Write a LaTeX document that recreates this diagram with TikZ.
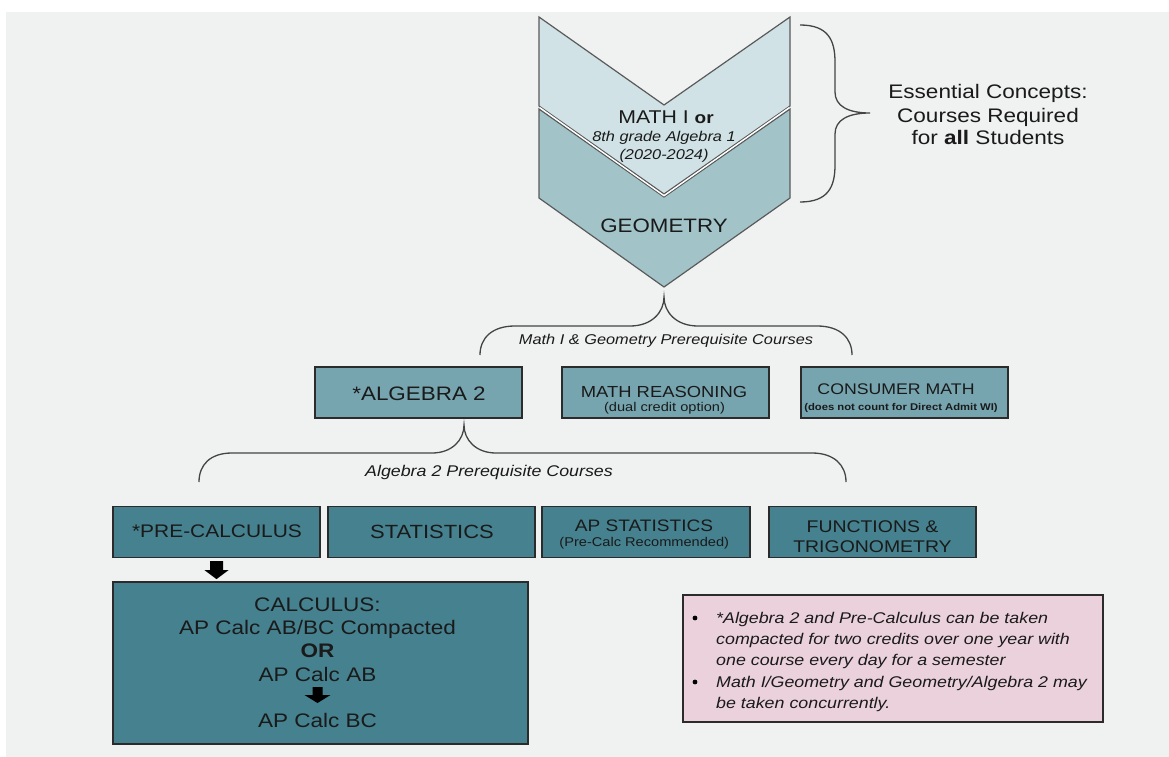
\documentclass[tikz,border=0pt]{standalone}
\usepackage{fontspec}
\setmainfont{Liberation Sans}[FakeStretch=1.15]
\definecolor{bg}{HTML}{F0F1F1}
\definecolor{chevA}{HTML}{D0E2E5}
\definecolor{chevB}{HTML}{A2C4C9}
\definecolor{rowA}{HTML}{76A5AF}
\definecolor{rowB}{HTML}{45818E}
\definecolor{note}{HTML}{EAD1DC}
\definecolor{bordc}{HTML}{2B2B2B}
\definecolor{chevline}{HTML}{5A5A5A}
\definecolor{bracec}{HTML}{444444}
\definecolor{txt}{HTML}{1A1A1A}
\newcommand\fsz[1]{\fontsize{#1pt}{#1pt}\selectfont}
\begin{document}
\begin{tikzpicture}[x=1pt,y=-1pt,
  box/.style={draw=bordc, line width=1.3pt, inner sep=0pt, minimum width=207pt, minimum height=51pt},
  lbl/.style={anchor=base, inner sep=0pt, text=txt},
  chev/.style={draw=chevline, line width=1.2pt, line join=miter},
  bracel/.style={draw=bracec, line width=1.3pt},
  blockarr/.style={fill=black}]
\useasboundingbox (0,0) rectangle (1169,757);
\fill[white] (0,0) rectangle (1169,757);
\fill[bg] (6,12) rectangle (1169,757);

% chevrons
\filldraw[chev, fill=chevB] (539,109) -- (664,197) -- (790,109) -- (790,198) -- (664,287) -- (539,198) -- cycle;
\filldraw[chev, fill=chevA] (539,17) -- (664,105) -- (790,17) -- (790,106) -- (664,194) -- (539,106) -- cycle;
\fill[white] (540,107) -- (664,195) -- (789,107) -- (789,108.5) -- (664,196.5) -- (540,108.5) -- cycle;
\coordinate (chevtip) at (664,287);

\node[lbl, font=\fsz{18.5}] (m1) at (666,123.6) {MATH I \textbf{\fsz{16.5}or}};
\node[lbl, font=\fsz{14.2}\itshape] (m2) at (664,142) {8th grade Algebra 1};
\node[lbl, font=\fsz{14.2}\itshape] (m3) at (664,159) {(2020-2024)};
\node[lbl, font=\fsz{19.4}] (geo) at (664,232) {GEOMETRY};

% right brace
\draw[bracel] (800,25) .. controls (828,25) and (835,40) .. (835,62) -- (835,92)
  .. controls (835,106) and (848,113) .. (870,113)
  .. controls (848,113) and (835,120) .. (835,134) -- (835,165)
  .. controls (835,187) and (828,202) .. (800,202);
\node[lbl, font=\fsz{19.6}] (e1) at (988,99) {Essential Concepts:};
\node[lbl, font=\fsz{19.6}] (e2) at (988,122) {Courses Required};
\node[lbl, font=\fsz{19.6}] (e3) at (988,144) {for \textbf{all} Students};

% brace under geometry
\draw[bracel] (480,355) .. controls (480,338) and (492,326) .. (515,326) -- (630,326)
  .. controls (652,326) and (664,312) .. (664,297)
  .. controls (664,312) and (676,326) .. (698,326) -- (817,326)
  .. controls (840,326) and (852,338) .. (852,355);
\node[lbl, font=\fsz{14.2}\itshape] (p1) at (666,344) {Math I \& Geometry Prerequisite Courses};

% row 1
\node[box, fill=rowA] (alg) at (418.5,392.5) {};
\node[box, fill=rowA] (mr) at (665.5,392.5) {};
\node[box, fill=rowA] (cm) at (904.5,392.5) {};
\node[lbl, font=\fsz{19.5}] (algt) at (419,400) {*ALGEBRA 2};
\node[lbl, font=\fsz{16}] (mrt) at (664,397) {MATH REASONING};
\node[lbl, font=\fsz{12.7}] (mrs) at (664.5,411) {(dual credit option)};
\node[lbl, font=\fsz{15.4}] (cmt) at (896,394.3) {CONSUMER MATH};
\node[lbl, font=\fsz{9.8}\bfseries] (cms) at (901,410) {(does not count for Direct Admit WI)};

% brace under algebra 2
\draw[bracel] (199,482) .. controls (199,465) and (210,453) .. (232,453) -- (432,453)
  .. controls (452,453) and (464,440) .. (464,425)
  .. controls (464,440) and (476,453) .. (496,453) -- (812,453)
  .. controls (834,453) and (846,465) .. (846,482);
\node[lbl, font=\fsz{15.5}\itshape] (p2) at (489,476) {Algebra 2 Prerequisite Courses};

% row 2
\node[box, fill=rowB] (pc) at (216.5,532) {};
\node[box, fill=rowB] (st) at (431.5,532) {};
\node[box, fill=rowB, minimum width=208pt] (aps) at (646,532) {};
\node[box, fill=rowB] (ft) at (872.5,532) {};
\node[lbl, font=\fsz{18.2}] (pct) at (217,537) {*PRE-CALCULUS};
\node[lbl, font=\fsz{19.1}] (stt) at (432,538) {STATISTICS};
\node[lbl, font=\fsz{16.6}] (apst) at (644,531) {AP STATISTICS};
\node[lbl, font=\fsz{12.7}] (apss) at (644.3,546) {(Pre-Calc Recommended)};
\node[lbl, font=\fsz{16.9}] (ft1) at (872.5,532) {FUNCTIONS \&};
\node[lbl, font=\fsz{16.9}] (ft2) at (872.5,552) {TRIGONOMETRY};

% calculus box
\node[box, fill=rowB, minimum width=415pt, minimum height=162pt] (calc) at (320.5,663) {};
\node[lbl, font=\fsz{19.6}] (c1) at (317.5,611) {CALCULUS:};
\node[lbl, font=\fsz{19.6}] (c2) at (317.5,634) {AP Calc AB/BC Compacted};
\node[lbl, font=\fsz{19.6}\bfseries] (c3) at (317.5,657) {OR};
\node[lbl, font=\fsz{19.6}] (c4) at (317.5,681) {AP Calc AB};
\node[lbl, font=\fsz{19.6}] (c5) at (317.5,727) {AP Calc BC};

% block arrows
\fill[blockarr] (pc.south) ++(-6.5,3) -- ++(13,0) -- ++(0,9) -- ++(5.5,0) -- ++(-12,9) -- ++(-12,-9) -- ++(5.5,0) -- cycle;
\fill[blockarr] (c4.base) ++(-5,6) -- ++(10,0) -- ++(0,8) -- ++(8,0) -- ++(-13,8) -- ++(-13,-8) -- ++(8,0) -- cycle;

% note box
\node[draw=bordc, line width=1.3pt, fill=note, inner sep=0pt, minimum width=420pt, minimum height=127pt] (nt) at (893,658.5) {};
\fill[black] (695,618) circle (2.4pt);
\fill[black] (695,682) circle (2.4pt);
\node[lbl, anchor=base west, font=\fsz{15.5}\itshape] (n1) at (716,623) {*Algebra 2 and Pre-Calculus can be taken};
\node[lbl, anchor=base west, font=\fsz{15.5}\itshape] (n2) at (716,644) {compacted for two credits over one year with};
\node[lbl, anchor=base west, font=\fsz{15.5}\itshape] (n3) at (716,665) {one course every day for a semester};
\node[lbl, anchor=base west, font=\fsz{15.5}\itshape] (n4) at (716,687) {Math I/Geometry and Geometry/Algebra 2 may};
\node[lbl, anchor=base west, font=\fsz{15.5}\itshape] (n5) at (716,708) {be taken concurrently.};
\end{tikzpicture}
\end{document}
